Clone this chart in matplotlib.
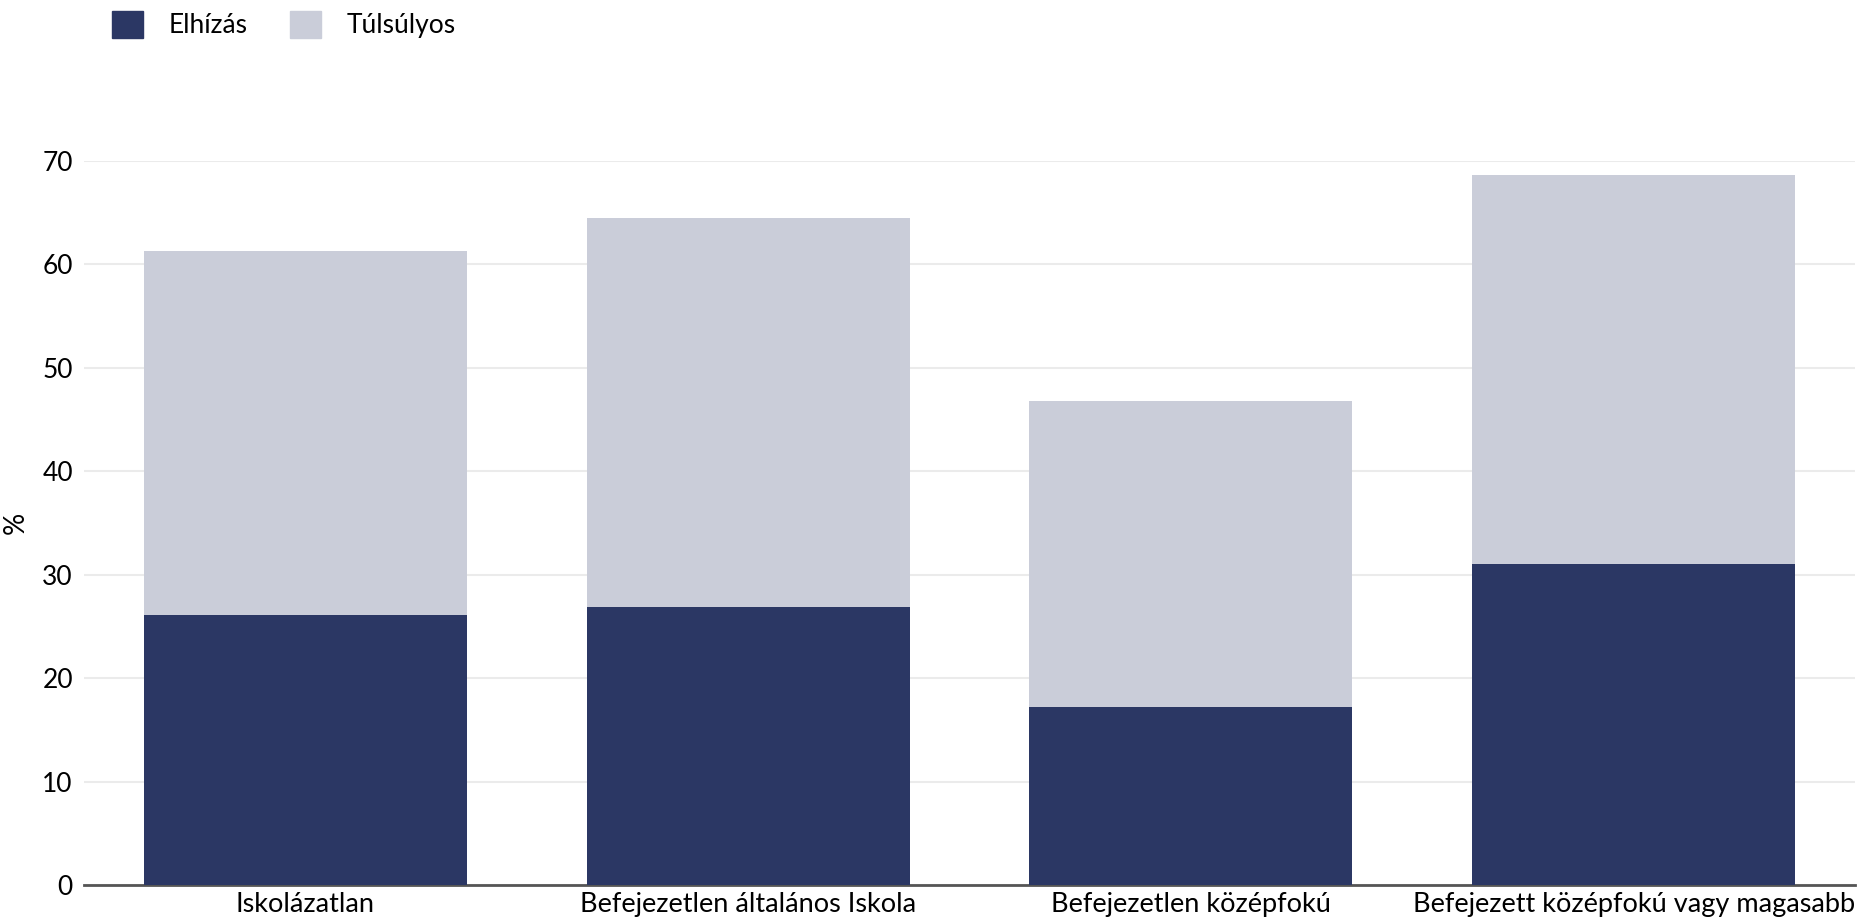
import matplotlib.pyplot as plt
import numpy as np
from matplotlib.patches import Patch

plt.rcParams['font.family'] = ['Lato', 'DejaVu Sans']

categories = ['Iskolázatlan', 'Befejezetlen általános Iskola',
              'Befejezetlen középfokú', 'Befejezett középfokú vagy magasabb']
elhizas = [26.1, 26.85, 17.2, 31.0]
tulsulyos = [35.2, 37.65, 29.6, 37.6]
yticks = [0, 10, 20, 30, 40, 50, 60, 70]

dark = '#2b3764'
light = '#cacdd9'

fig = plt.figure(figsize=(18.57, 9.23), dpi=100)
ax = fig.add_axes([84 / 1857, 38 / 923, 1771 / 1857, 724 / 923])

x = np.arange(len(categories))
ax.bar(x, elhizas, width=0.73, color=dark, zorder=3)
ax.bar(x, tulsulyos, width=0.73, bottom=elhizas, color=light, zorder=3)

ax.set_xlim(-0.5, len(categories) - 0.5)
ax.set_ylim(0, 70)
ax.set_yticks(yticks)
ax.set_xticks(x)
ax.set_xticklabels(categories, fontsize=19.5)
ax.tick_params(axis='y', labelsize=19, length=0, pad=8)
ax.tick_params(axis='x', length=0, pad=5)
ax.grid(axis='y', color='#ebebeb', linewidth=1.5, zorder=0)
for s in ['top', 'right', 'left']:
    ax.spines[s].set_visible(False)
ax.spines['bottom'].set_color('#555555')
ax.spines['bottom'].set_linewidth(2)
ax.spines['bottom'].set_zorder(2)
ax.set_ylabel('%', fontsize=20)
ax.yaxis.set_label_coords(-0.031, 0.5)

handles = [Patch(color=dark, label='Elhízás'), Patch(color=light, label='Túlsúlyos')]
fig.legend(handles=handles, loc='upper left', bbox_to_anchor=(88 / 1857, 1.014),
           ncol=2, frameon=False, fontsize=19, handlelength=1.2, handleheight=1.2,
           columnspacing=1.6, handletextpad=0.95)

plt.savefig('out.png', dpi=100)
plt.close()
